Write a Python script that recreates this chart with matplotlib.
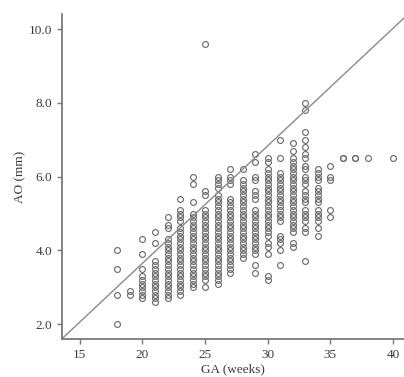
import matplotlib
matplotlib.use("Agg")
import matplotlib.pyplot as plt

# Semanas de gestacion (GA) y valores de AO (mm) leidos por columna
ao_18 = [4.0, 3.5, 2.8, 2.0]
ao_19 = [2.9, 2.8]
ao_20 = [4.3, 3.9, 3.5, 3.3, 3.2, 3.1, 3.0, 2.9, 2.8, 2.7]
ao_21 = [4.5, 4.2, 3.7, 3.6, 3.5, 3.4, 3.3, 3.2, 3.1, 3.0, 2.9, 2.8, 2.7, 2.6]
ao_22 = [4.9, 4.7, 4.6, 4.3, 4.2, 4.1, 4.0, 3.9, 3.8, 3.7, 3.6, 3.5, 3.4, 3.3,
         3.2, 3.1, 3.0, 2.9, 2.8, 2.7]
ao_23 = [5.4, 5.1, 5.0, 4.9, 4.8, 4.6, 4.5, 4.4, 4.3, 4.2, 4.1, 4.0, 3.9, 3.8,
         3.7, 3.6, 3.5, 3.4, 3.3, 3.2, 3.1, 3.0, 2.9, 2.8]
ao_24 = [6.0, 5.8, 5.3, 5.0, 4.9, 4.8, 4.7, 4.6, 4.5, 4.4, 4.3, 4.2, 4.1, 4.0,
         3.9, 3.8, 3.7, 3.6, 3.5, 3.4, 3.3, 3.2, 3.1, 3.0]
ao_25 = [9.6, 5.6, 5.5, 5.1, 5.0, 4.9, 4.8, 4.7, 4.6, 4.5, 4.4, 4.3, 4.2, 4.1,
         4.0, 3.9, 3.8, 3.7, 3.6, 3.5, 3.4, 3.3, 3.2, 3.0]
ao_26 = [6.0, 5.9, 5.8, 5.7, 5.5, 5.4, 5.3, 5.2, 5.1, 5.0, 4.9, 4.8, 4.7, 4.6,
         4.5, 4.4, 4.3, 4.2, 4.1, 4.0, 3.9, 3.8, 3.7, 3.6, 3.5, 3.4, 3.3, 3.2, 3.1]
ao_27 = [6.2, 6.0, 5.9, 5.8, 5.4, 5.3, 5.2, 5.1, 5.0, 4.9, 4.8, 4.7, 4.6, 4.5,
         4.4, 4.3, 4.2, 4.1, 4.0, 3.9, 3.8, 3.7, 3.6, 3.5, 3.4]
ao_28 = [6.2, 5.9, 5.8, 5.7, 5.6, 5.5, 5.4, 5.3, 5.2, 5.1, 5.0, 4.9, 4.8, 4.7,
         4.6, 4.5, 4.4, 4.3, 4.2, 4.1, 4.0, 3.9, 3.8]
ao_29 = [6.6, 6.4, 6.0, 5.9, 5.6, 5.5, 5.4, 5.1, 5.0, 4.9, 4.8, 4.7, 4.6, 4.5,
         4.4, 4.3, 4.2, 4.1, 4.0, 3.9, 3.6, 3.4]
ao_30 = [6.5, 6.4, 6.2, 6.1, 6.0, 5.9, 5.8, 5.7, 5.6, 5.5, 5.4, 5.3, 5.2, 5.1,
         5.0, 4.9, 4.8, 4.7, 4.6, 4.5, 4.4, 4.2, 4.1, 3.9, 3.3, 3.2]
ao_31 = [7.0, 6.5, 6.1, 6.0, 5.9, 5.8, 5.7, 5.6, 5.5, 5.4, 5.3, 5.2, 5.1, 5.0,
         4.9, 4.8, 4.4, 4.3, 4.2, 4.0, 3.6]
ao_32 = [6.9, 6.7, 6.5, 6.4, 6.3, 6.2, 6.1, 6.0, 5.9, 5.8, 5.7, 5.6, 5.5, 5.4,
         5.3, 5.2, 5.1, 5.0, 4.9, 4.8, 4.7, 4.6, 4.5, 4.2, 4.1]
ao_33 = [8.0, 7.8, 7.2, 7.0, 6.8, 6.6, 6.5, 6.3, 6.2, 6.0, 5.9, 5.8, 5.6, 5.5,
         5.4, 5.3, 5.1, 5.0, 4.9, 4.8, 4.6, 4.5, 3.7]
ao_34 = [6.2, 6.1, 6.0, 5.9, 5.7, 5.6, 5.5, 5.4, 5.3, 5.1, 5.0, 4.9, 4.8, 4.6, 4.4]
ao_35 = [6.3, 6.0, 5.9, 5.1, 4.9]
ao_36 = [6.5, 6.5]
ao_37 = [6.5, 6.5]
ao_38 = [6.5]
ao_40 = [6.5]

columnas = [(18, ao_18), (19, ao_19), (20, ao_20), (21, ao_21), (22, ao_22),
            (23, ao_23), (24, ao_24), (25, ao_25), (26, ao_26), (27, ao_27),
            (28, ao_28), (29, ao_29), (30, ao_30), (31, ao_31), (32, ao_32),
            (33, ao_33), (34, ao_34), (35, ao_35), (36, ao_36), (37, ao_37),
            (38, ao_38), (40, ao_40)]

# Recta de referencia (extremos)
linea_ga = [13.56, 40.88]
linea_ao = [1.6, 10.3]

x_ticks = [15, 20, 25, 30, 35, 40]
y_ticks = [2.0, 4.0, 6.0, 8.0, 10.0]

ga = []
ao = []
for semana, valores in columnas:  # aplanar columnas a pares (x, y)
    ga += [semana] * len(valores)
    ao += valores

plt.rcParams['font.family'] = ['Liberation Serif', 'DejaVu Serif']
gris = '#7a7a7a'
texto = '#3a3a3a'

fig = plt.figure(figsize=(4.04, 3.77), dpi=100)
ax = fig.add_axes([0.153, 0.101, 0.847, 0.862])

ax.plot(ga, ao, linestyle='none', marker='o', markersize=4.2,
        markerfacecolor='none', markeredgecolor='#666666', markeredgewidth=0.8)
ax.plot(linea_ga, linea_ao, color='#8a8a8a', linewidth=1.0)

ax.set_xlim(13.56, 40.88)
ax.set_ylim(1.6, 10.41)
ax.set_xticks(x_ticks)
ax.set_yticks(y_ticks)
ax.set_yticklabels(['%.1f' % v for v in y_ticks])

for lado in ['top', 'right']:
    ax.spines[lado].set_visible(False)
for lado in ['left', 'bottom']:
    ax.spines[lado].set_color(gris)
    ax.spines[lado].set_linewidth(1.3)
ax.tick_params(colors=gris, labelcolor=texto, labelsize=9.5, length=3.5, width=1.0)

ax.set_xlabel('GA (weeks)', fontsize=9.5, color=texto, labelpad=2)
ax.set_ylabel('AO (mm)', fontsize=9.5, color=texto, labelpad=2)

fig.savefig('out.png', dpi=100)
